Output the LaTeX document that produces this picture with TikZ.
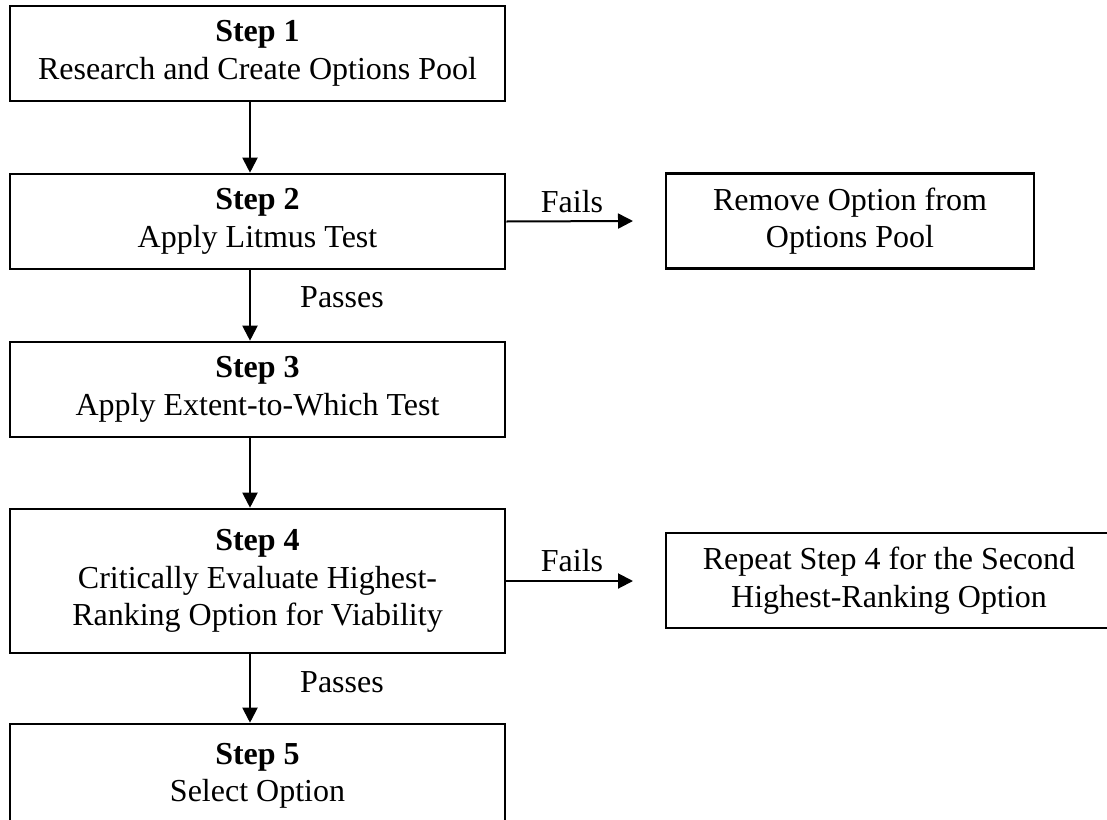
\documentclass[tikz,border=0pt]{standalone}
\usepackage{fontspec}
\setmainfont{Liberation Serif}
\usetikzlibrary{arrows.meta}
\begin{document}
\begin{tikzpicture}[x=0.5pt,y=-0.5pt,
  stepbox/.style={draw, line width=1.3pt, minimum width=247.5pt, minimum height=47.5pt,
    inner sep=0pt, align=center, font=\fontsize{16}{18.7}\selectfont},
  arr/.style={-{Triangle[length=7.5pt,width=7.5pt]}, line width=1pt},
  lbl/.style={font=\fontsize{16}{18.7}\selectfont, anchor=base, inner sep=0pt}]
\useasboundingbox (0,0) rectangle (1107,819);
\node[stepbox] (s1) at (257.5,53.5) {\textbf{Step 1}\\Research and Create Options Pool};
\node[stepbox] (s2) at (257.5,221.5) {\textbf{Step 2}\\Apply Litmus Test};
\node[stepbox] (s3) at (257.5,389.5) {\textbf{Step 3}\\Apply Extent-to-Which Test};
\node[stepbox, minimum height=72pt] (s4) at (257.5,581) {\textbf{Step 4}\\Critically Evaluate Highest-\\Ranking Option for Viability};
\node[stepbox, minimum height=52pt] (s5) at (257.5,776) {\textbf{Step 5}\\Select Option};
\node[stepbox, minimum width=184pt] (rm) at (850,221) {Remove Option from\\Options Pool};
\node[stepbox, minimum width=223pt] (rp) at (889,580.5) {Repeat Step 4 for the Second\\Highest-Ranking Option};
\coordinate (f1) at (633,221);
\coordinate (f2) at (633,581);
\draw[arr] ([xshift=-3.75pt]s1.south) -- ([xshift=-3.75pt]s2.north);
\draw[arr] ([xshift=-3.75pt]s2.south) -- ([xshift=-3.75pt]s3.north);
\draw[arr] ([xshift=-3.75pt]s3.south) -- ([xshift=-3.75pt]s4.north);
\draw[arr] ([xshift=-3.75pt]s4.south) -- ([xshift=-3.75pt]s5.north);
\draw[arr] (s2.east) -- (f1);
\draw[arr] (s4.east) -- (f2);
\node[lbl] (fails1) at (572,212) {Fails};
\node[lbl] (fails2) at (572,571) {Fails};
\node[lbl] (pass1) at (342,307) {Passes};
\node[lbl] (pass2) at (342,692) {Passes};
\end{tikzpicture}
\end{document}
